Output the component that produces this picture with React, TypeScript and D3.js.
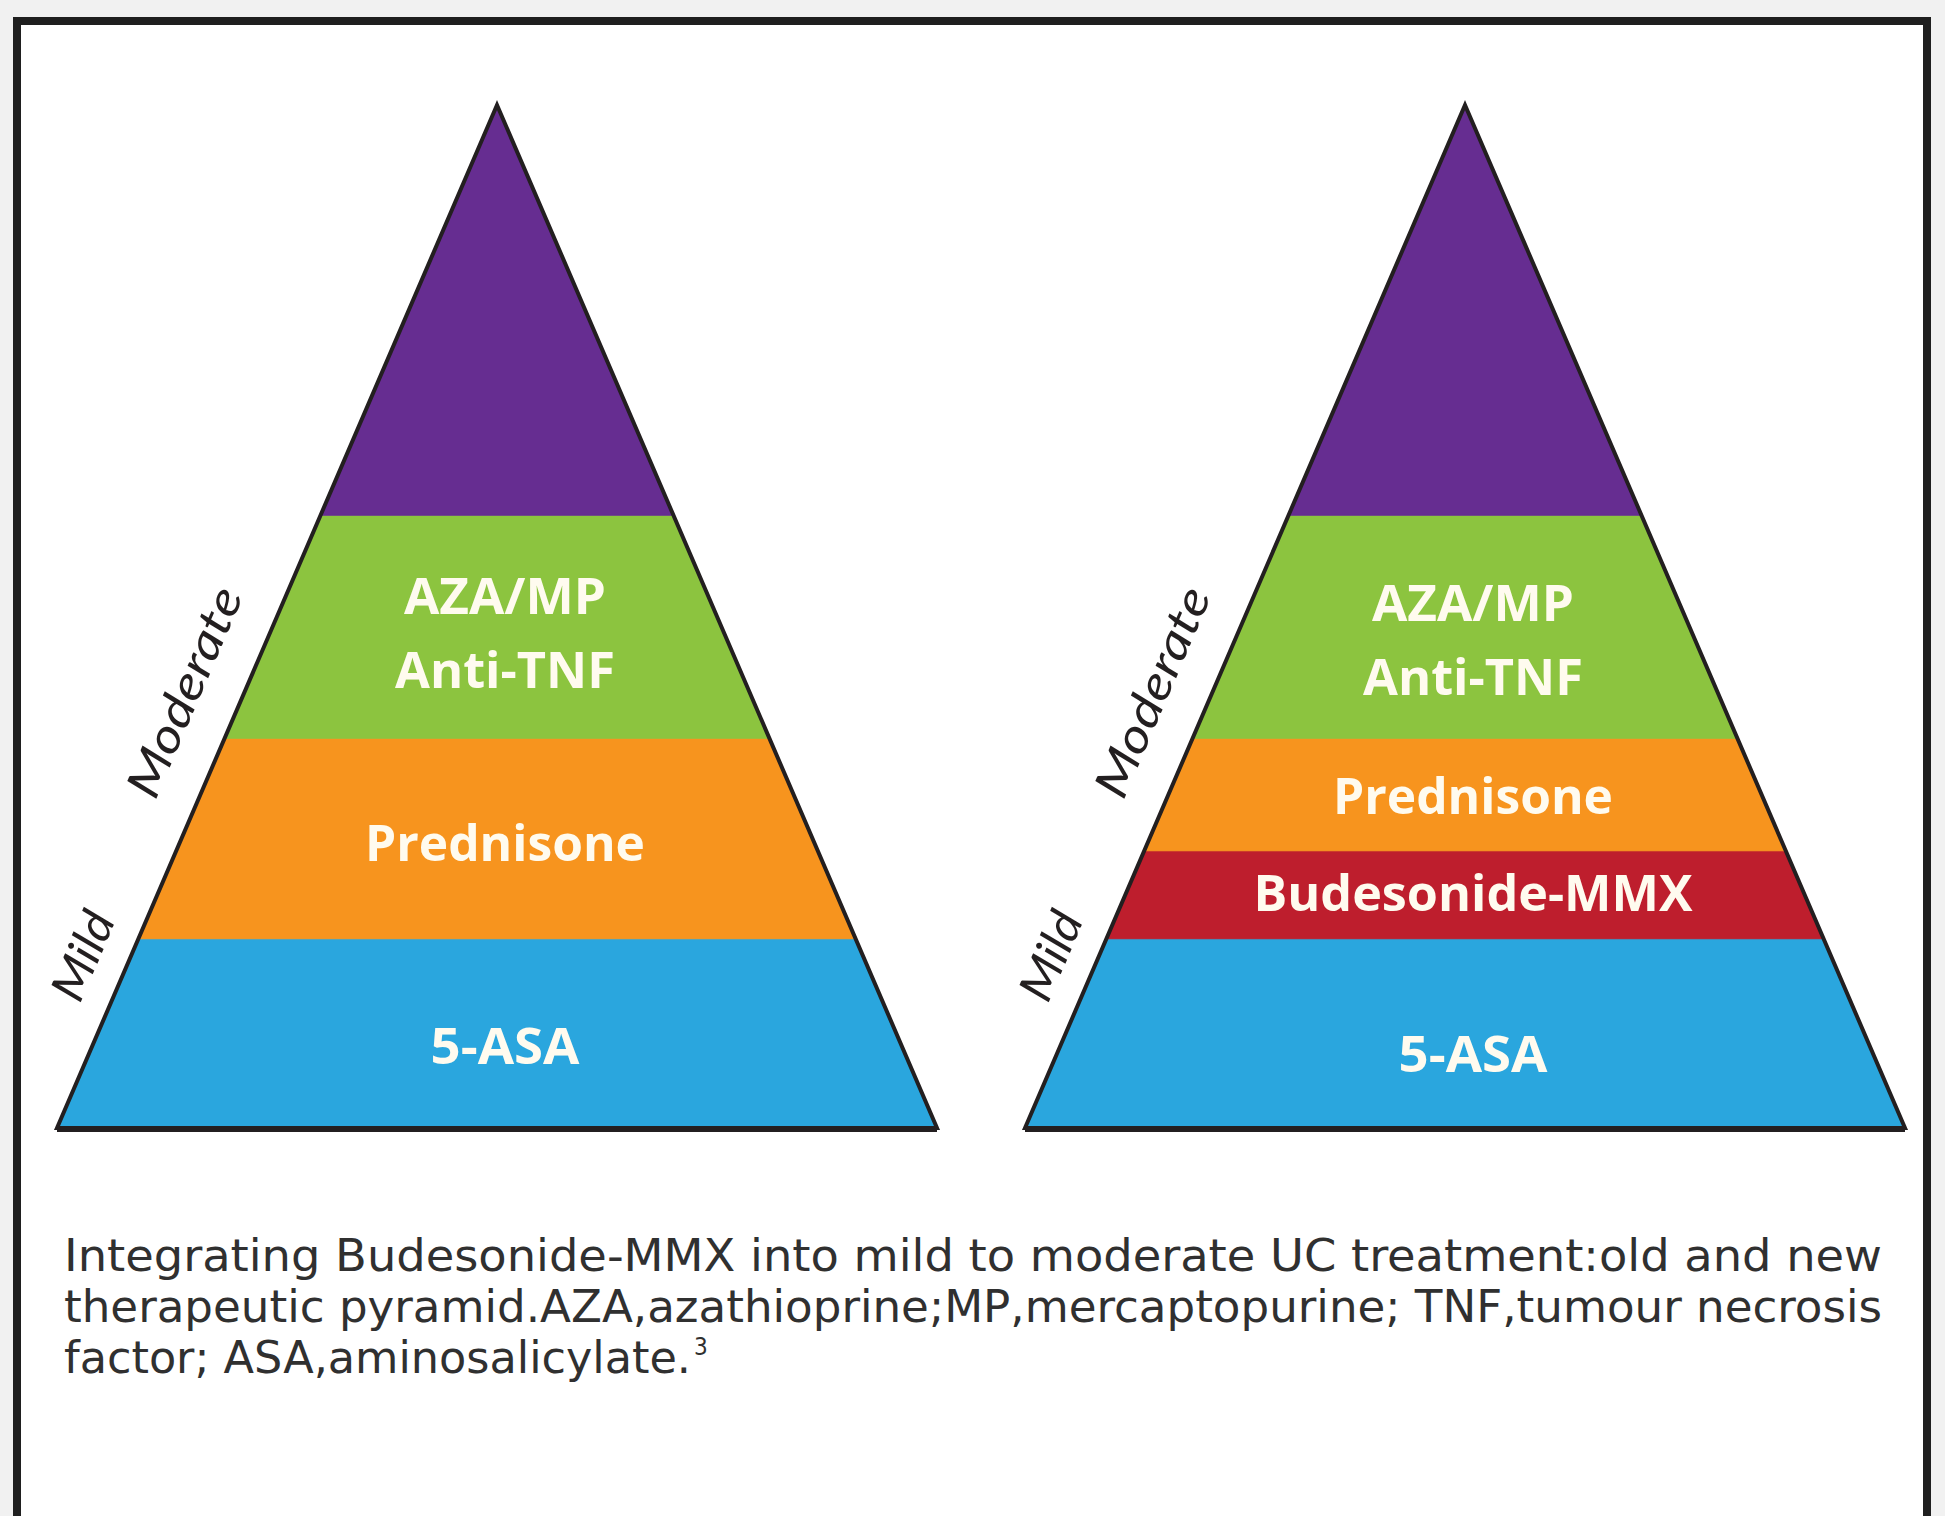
/**
 * Old vs new therapeutic pyramid for mild–moderate UC
 */
import { useEffect, useRef } from 'react';
import * as d3 from 'd3';

// tiers listed bottom → top; breaks are levels in % of pyramid height
const oldTiers = ['5-ASA', 'Prednisone', 'AZA/MP|Anti-TNF', 'Top'];
const oldBreaks = [0, 18.5, 38.1, 59.9, 100];
const oldLabelAt = [8.0, 27.9, 48.4];

const newTiers = ['5-ASA', 'Budesonide-MMX', 'Prednisone', 'AZA/MP|Anti-TNF', 'Top'];
const newBreaks = [0, 18.5, 27.1, 38.1, 59.9, 100];
const newLabelAt = [7.2, 23.0, 32.5, 47.7];

const severity = ['Mild', 'Moderate'];
const severityAt = [16.9, 42.7];

const captionLines = [
  'Integrating Budesonide-MMX into mild to moderate UC treatment:old and new',
  'therapeutic pyramid.AZA,azathioprine;MP,mercaptopurine; TNF,tumour necrosis',
  'factor; ASA,aminosalicylate.',
];
const captionNote = '3';

const tierColor: Record<string, string> = {
  '5-ASA': '#2aa6de',
  'Budesonide-MMX': '#be1e2d',
  'Prednisone': '#f7941e',
  'AZA/MP|Anti-TNF': '#8cc43f',
  'Top': '#662d91',
};
const labelWidth: Record<string, number> = {
  'AZA/MP': 202, 'Anti-TNF': 220, 'Prednisone': 280, '5-ASA': 149, 'Budesonide-MMX': 439,
};
const severityGap: Record<string, number> = { Mild: 50, Moderate: 62 };

const W = 1945, H = 1516;
const APEX_Y = 105, BASE_Y = 1128, HALF_BASE = 440;

export default function App() {
  const svgRef = useRef<SVGSVGElement>(null);

  useEffect(() => {
    if (!svgRef.current) return;
    const svg = d3.select(svgRef.current);
    svg.selectAll('*').remove();

    svg.append('rect').attr('width', W).attr('height', H).attr('fill', '#f1f1f1');
    // frame (bottom edge runs off the page)
    svg.append('rect').attr('x', 17).attr('y', 21).attr('width', 1910).attr('height', 1600)
      .attr('fill', '#fff').attr('stroke', '#1f1f1f').attr('stroke-width', 8);

    const y = d3.scaleLinear().domain([0, 100]).range([BASE_Y, APEX_Y]);
    const half = d3.scaleLinear().domain([0, 100]).range([HALF_BASE, 0]);
    const angle = -Math.atan2(BASE_Y - APEX_Y, HALF_BASE) * 180 / Math.PI;

    const drawPyramid = (cx: number, tiers: string[], breaks: number[], labelAt: number[]) => {
      const g = svg.append('g');
      tiers.forEach((t, i) => {
        const a = breaks[i], b = breaks[i + 1];
        const pts: [number, number][] = [
          [cx - half(a), y(a)], [cx + half(a), y(a)], [cx + half(b), y(b)], [cx - half(b), y(b)],
        ];
        g.append('path').attr('d', d3.line()(pts) + 'Z')
          .attr('fill', tierColor[t]).attr('stroke', tierColor[t]).attr('stroke-width', 1);
      });
      // outline
      const tri: [number, number][] = [[cx - half(0), y(0)], [cx, y(100)], [cx + half(0), y(0)]];
      g.append('path').attr('d', d3.line()(tri) + 'Z')
        .attr('fill', 'none').attr('stroke', '#231f20').attr('stroke-width', 4).attr('stroke-linejoin', 'miter');
      g.append('line').attr('x1', cx - half(0)).attr('x2', cx + half(0)).attr('y1', y(0) + 1).attr('y2', y(0) + 1)
        .attr('stroke', '#231f20').attr('stroke-width', 6);

      // tier labels
      labelAt.forEach((lv, i) => {
        const lines = tiers[i].split('|');
        const step = 74;
        lines.forEach((txt, j) => {
          const cy = y(lv) + (j - (lines.length - 1) / 2) * step;
          g.append('text')
            .attr('x', cx + 8).attr('y', cy + 18)
            .attr('text-anchor', 'middle')
            .attr('font-family', '"Open Sans", sans-serif').attr('font-weight', 700).attr('font-size', 50)
            .attr('fill', '#fffbef')
            .attr('textLength', labelWidth[txt]).attr('lengthAdjust', 'spacingAndGlyphs')
            .text(txt);
        });
      });

      // severity labels along the left edge
      severity.forEach((s, i) => {
        const lv = severityAt[i];
        const tx = cx - half(lv) - severityGap[s];
        const ty = y(lv);
        g.append('text')
          .attr('transform', `translate(${tx},${ty}) rotate(${angle})`)
          .attr('text-anchor', 'middle').attr('dominant-baseline', 'central')
          .attr('font-family', 'Lato, "Open Sans", sans-serif').attr('font-style', 'italic')
          .attr('font-size', 47).attr('fill', '#231f20')
          .attr('textLength', s === 'Mild' ? 92 : 224).attr('lengthAdjust', 'spacingAndGlyphs')
          .text(s);
      });
    };

    drawPyramid(497, oldTiers, oldBreaks, oldLabelAt);
    drawPyramid(1465, newTiers, newBreaks, newLabelAt);

    // caption
    const baselines = [1271, 1322, 1373];
    const cap = svg.append('g')
      .attr('font-family', '"DejaVu Sans Condensed", "Liberation Sans Narrow", sans-serif')
      .attr('font-size', 44).attr('fill', '#303030');
    captionLines.forEach((line, i) => {
      cap.append('text').attr('x', 64).attr('y', baselines[i])
        .attr('textLength', i < 2 ? 1818 : 627).attr('lengthAdjust', 'spacingAndGlyphs')
        .text(line);
    });
    cap.append('text').attr('x', 694).attr('y', baselines[2] - 18).attr('font-size', 24).text(captionNote);
  }, []);

  return <svg ref={svgRef} width={W} height={H} viewBox={`0 0 ${W} ${H}`}
    style={{ position: 'absolute', left: 0, top: 0, display: 'block' }} />;
}
